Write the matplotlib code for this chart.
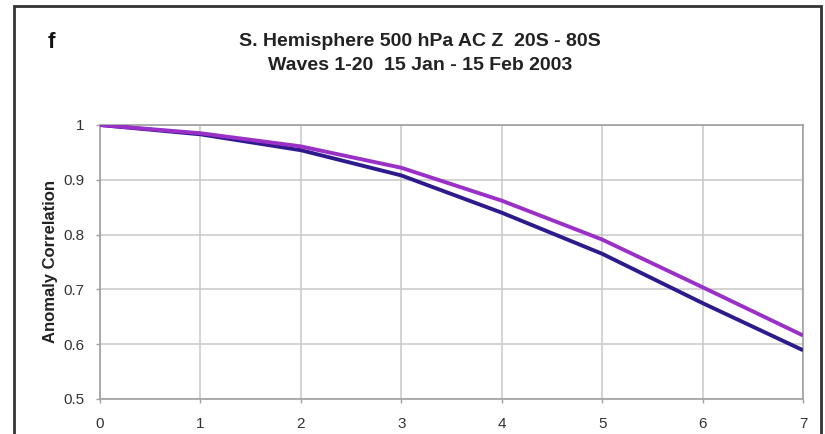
import matplotlib.pyplot as plt
import matplotlib.patches as patches

days = [0, 1, 2, 3, 4, 5, 6, 7]
ac_purple = [1.0, 0.985, 0.961, 0.922, 0.862, 0.791, 0.704, 0.616]
ac_blue = [1.0, 0.983, 0.954, 0.908, 0.840, 0.765, 0.675, 0.589]
y_ticks = [0.5, 0.6, 0.7, 0.8, 0.9, 1]
y_tick_labels = ["0.5", "0.6", "0.7", "0.8", "0.9", "1"]

plt.rcParams['font.family'] = ['Liberation Sans', 'DejaVu Sans']

fig = plt.figure(figsize=(8.25, 4.34), dpi=100)
ax = fig.add_axes([100/825, 1-399/434, 703/825, 274/434])

ax.plot(days, ac_blue, color="#2e1a8c", lw=2.8, solid_capstyle="butt", zorder=3)
ax.plot(days, ac_purple, color="#9b30c8", lw=2.8, solid_capstyle="butt", zorder=4)

ax.set_xlim(0, 7)
ax.set_ylim(0.5, 1.0)
ax.set_xticks(days)
ax.set_yticks(y_ticks)
ax.set_yticklabels(y_tick_labels)
ax.grid(True, color="#c8c8c8", lw=1.1)
ax.set_axisbelow(True)
for s in ax.spines.values():
    s.set_color("#a0a0a0")
    s.set_linewidth(1.2)
ax.tick_params(colors="#a0a0a0", length=3, width=1, labelcolor="#333333", labelsize=11)
ax.tick_params(axis="x", pad=10)
ax.tick_params(axis="y", pad=8)
ax.set_ylabel("Anomaly Correlation", fontsize=12, fontweight="bold", color="#222222", labelpad=4)

fig.text(420/825, 1-41/434, "S. Hemisphere 500 hPa AC Z  20S - 80S", ha="center", va="center",
         fontsize=14, fontweight="bold", color="#222222")
fig.text(420/825, 1-66/434, "Waves 1-20  15 Jan - 15 Feb 2003", ha="center", va="center",
         fontsize=14, fontweight="bold", color="#222222")
fig.text(51/825, 1-43/434, "f", ha="center", va="center", fontsize=16, fontweight="bold", color="#111111")

border = patches.Rectangle((13.5/825, -0.1), (821-13.5)/825, 1.1-5.5/434, transform=fig.transFigure,
                           fill=False, edgecolor="#333333", lw=2.0, clip_on=False)
fig.patches.append(border)

fig.savefig("out.png", dpi=100)
